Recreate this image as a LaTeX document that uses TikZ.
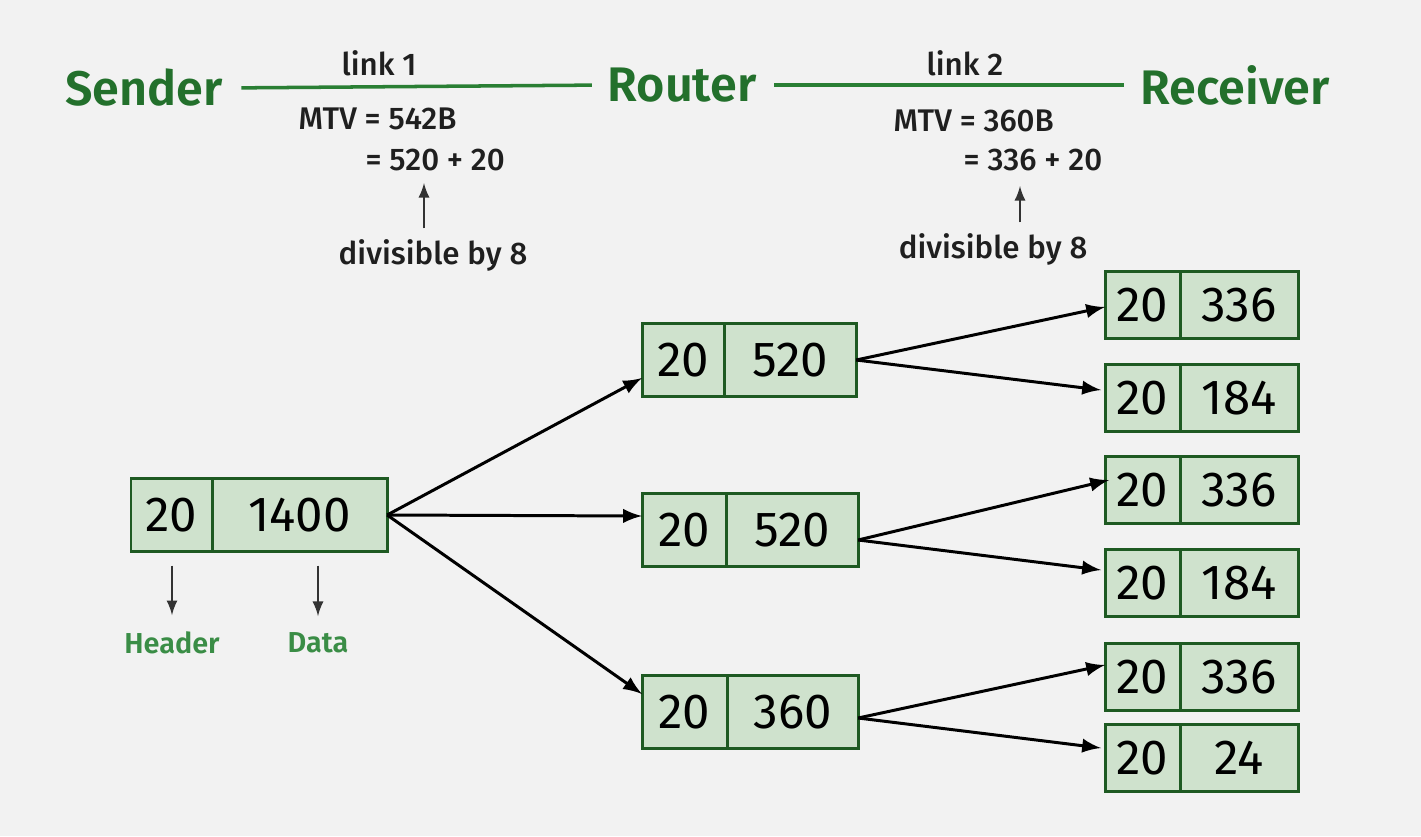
\documentclass[tikz,border=0pt]{standalone}
\usepackage{fontspec}
\setmainfont{Fira Sans}[BoldFont={Fira Sans SemiBold}]
\newfontfamily\mediumfont{Fira Sans Medium}
\usepackage{xcolor}
\usetikzlibrary{calc, positioning}

\definecolor{titlegreen}{HTML}{23702C}
\definecolor{linegreen}{HTML}{2A7F34}
\definecolor{boxgreen}{HTML}{1E5A22}
\definecolor{boxfill}{HTML}{CFE2CD}
\definecolor{labelgreen}{HTML}{3A8D46}
\definecolor{bgray}{HTML}{F2F2F2}

\begin{document}
\begin{tikzpicture}[>=latex, x=0.01cm, y=-0.01cm,
    title/.style={font=\fontsize{13.8}{16}\selectfont\bfseries, text=titlegreen, inner sep=0pt},
    note/.style={font=\fontsize{8.9}{10}\selectfont\mediumfont, text=black!88, inner sep=0pt},
    part/.style={font=\fontsize{8.2}{10}\selectfont\bfseries, text=labelgreen, inner sep=0pt},
    cell/.style={draw=boxgreen, fill=boxfill, line width=0.85pt, inner sep=0pt, outer sep=0pt,
                 font=\fontsize{14}{16}\selectfont, text=black},
    wire/.style={draw=linegreen, line width=1pt},
    flow/.style={->, line width=0.85pt},
    hint/.style={->, line width=0.45pt, black!80}]
    \useasboundingbox[fill=bgray] (0,0) rectangle (1421,836);

    % 1. Sender -- Router -- Receiver
    \node[title] (sender) at (144,88) {Sender};
    \node[title] (router) at (682,85) {Router};
    \node[title] (receiver) at (1235,85) {Receiver};
    \draw[wire, shorten <=0.18cm, shorten >=0.15cm] (sender.east) -- (router.west);
    \draw[wire, shorten <=0.17cm, shorten >=0.16cm] (router.east) -- (receiver.west);

    % 2. link 1
    \node[note] (lk1) at (379,63) {link 1};
    \node[note, anchor=west] (mtv1) at (298,119) {MTV = 542B};
    \node[note, anchor=west] (eq1) at (365,160) {= 520 + 20};
    \node[note] (dv1) at (433,255) {divisible by 8};
    \coordinate (tip1) at (424,183);
    \draw[hint] ($(dv1.north -| tip1)+(0,-10)$) -- (tip1);

    % 3. link 2
    \node[note] (lk2) at (965,63) {link 2};
    \node[note, anchor=west] (mtv2) at (893,121) {MTV = 360B};
    \node[note, anchor=west] (eq2) at (963,160) {= 336 + 20};
    \node[note] (dv2) at (993,249) {divisible by 8};
    \coordinate (tip2) at (1020,186);
    \draw[hint] ($(dv2.north -| tip2)+(0,-10)$) -- (tip2);

    % 4. Goi tin ban dau: 20 | 1400
    \node[cell, minimum width=0.81cm, minimum height=0.73cm, anchor=west] (h0) at (131,515) {20};
    \node[cell, minimum width=1.75cm, minimum height=0.73cm, right=0pt of h0] (d0) {1400};
    \node[part] (hd) at (172,643) {Header};
    \node[part] (dt) at (318,643) {Data};
    \draw[hint, shorten <=0.14cm, shorten >=0.16cm] (h0.south -| hd.north) -- (hd.north);
    \draw[hint, shorten <=0.14cm, shorten >=0.16cm] (d0.south -| dt.north) -- (dt.north);

    % 5. Phan manh tai link 1
    \node[cell, minimum width=0.82cm, minimum height=0.72cm, anchor=west] (h1) at (642,360) {20};
    \node[cell, minimum width=1.32cm, minimum height=0.72cm, right=0pt of h1] (d1) {520};
    \node[cell, minimum width=0.84cm, minimum height=0.72cm, anchor=west] (h2) at (642,530) {20};
    \node[cell, minimum width=1.32cm, minimum height=0.72cm, right=0pt of h2] (d2) {520};
    \node[cell, minimum width=0.85cm, minimum height=0.72cm, anchor=west] (h3) at (642,712) {20};
    \node[cell, minimum width=1.31cm, minimum height=0.72cm, right=0pt of h3] (d3) {360};

    \draw[flow] (d0.east) -- ($(h1.west)+(0,18)$);
    \draw[flow] (d0.east) -- ($(h2.west)+(0,-14)$);
    \draw[flow] (d0.east) -- ($(h3.west)+(0,-18)$);

    % 6. Phan manh tai link 2
    \foreach \i/\y/\v in {1/305/336, 2/398/184, 3/490/336, 4/583/184, 5/677/336, 6/758/24} {
        \node[cell, minimum width=0.75cm, minimum height=0.67cm, anchor=west] (r\i) at (1105,\y) {20};
        \node[cell, minimum width=1.18cm, minimum height=0.67cm, right=0pt of r\i] (s\i) {\v};
    }

    \draw[flow] (d1.east) -- ($(r1.west)+(0,2)$);
    \draw[flow] (d1.east) -- ($(r2.west)+(-4,-8)$);
    \draw[flow] ($(d2.east)+(0,10)$) -- ($(r3.west)+(4,-10)$);
    \draw[flow] ($(d2.east)+(0,10)$) -- ($(r4.west)+(-4,-13)$);
    \draw[flow] ($(d3.east)+(0,6)$) -- ($(r5.west)+(0,-12)$);
    \draw[flow] ($(d3.east)+(0,6)$) -- ($(r6.west)+(-4,-10)$);

\end{tikzpicture}
\end{document}
